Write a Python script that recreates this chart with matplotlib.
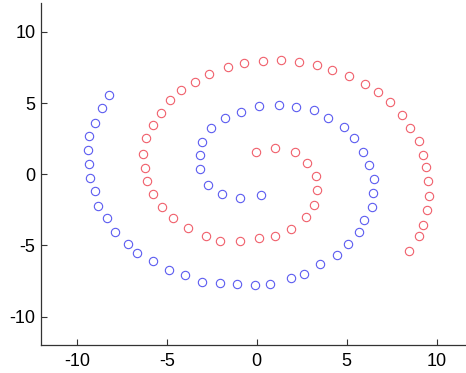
import matplotlib
matplotlib.use("Agg")
import matplotlib.pyplot as plt

plt.rcParams['font.family'] = ['Liberation Sans', 'DejaVu Sans']
plt.rcParams['axes.unicode_minus'] = False

# spiral 1 (red), from the centre outwards
red_x = [-0.05, 0.99, 2.14, 2.81, 3.31, 3.37, 3.19, 2.72, 1.89, 1.00,
         0.12, -0.95, -2.05, -2.85, -3.80, -4.68, -5.29, -5.79, -6.11, -6.24,
         -6.33, -6.14, -5.77, -5.34, -4.81, -4.22, -3.44, -2.63, -1.62, -0.72,
         0.34, 1.37, 2.35, 3.37, 4.18, 5.12, 6.04, 6.72, 7.39, 8.05,
         8.52, 9.04, 9.22, 9.42, 9.52, 9.57, 9.49, 9.25, 9.00, 8.46]
red_y = [1.57, 1.83, 1.58, 0.81, -0.15, -1.09, -2.16, -3.00, -3.86, -4.33,
         -4.51, -4.68, -4.67, -4.33, -3.79, -3.11, -2.30, -1.40, -0.49, 0.41,
         1.40, 2.54, 3.43, 4.33, 5.20, 5.88, 6.47, 7.06, 7.55, 7.84,
         7.98, 8.05, 7.90, 7.69, 7.32, 6.88, 6.34, 5.74, 5.04, 4.14,
         3.24, 2.33, 1.36, 0.54, -0.46, -1.53, -2.51, -3.56, -4.35, -5.39]

# spiral 2 (blue), from the outer end inwards
blue_x = [-8.24, -8.61, -8.98, -9.33, -9.41, -9.33, -9.26, -9.00, -8.85, -8.35,
          -7.88, -7.18, -6.65, -5.79, -4.90, -4.00, -3.05, -2.07, -1.08, -0.08,
          0.76, 1.89, 2.65, 3.50, 4.44, 5.09, 5.66, 5.95, 6.41, 6.48,
          6.50, 6.26, 5.91, 5.39, 4.86, 3.94, 3.18, 2.16, 1.23, 0.11,
          -0.90, -1.75, -2.53, -3.04, -3.13, -3.13, -2.71, -1.96, -0.92, 0.25]
blue_y = [5.55, 4.66, 3.60, 2.65, 1.71, 0.75, -0.28, -1.19, -2.20, -3.07,
          -4.05, -4.87, -5.55, -6.13, -6.76, -7.09, -7.54, -7.61, -7.74, -7.75,
          -7.68, -7.32, -7.00, -6.30, -5.67, -4.92, -4.09, -3.23, -2.27, -1.29,
          -0.37, 0.68, 1.57, 2.55, 3.30, 3.95, 4.49, 4.75, 4.87, 4.81,
          4.39, 3.92, 3.25, 2.28, 1.38, 0.37, -0.74, -1.37, -1.64, -1.43]

ticks = [-10, -5, 0, 5, 10]

fig = plt.figure(figsize=(4.66, 3.73), dpi=100)
ax = fig.add_axes([0.088, 0.075, 0.926, 0.916])

ax.plot(red_x, red_y, 'o', ms=6, mfc='none', mec='#f0606c', mew=0.8)
ax.plot(blue_x, blue_y, 'o', ms=6, mfc='none', mec='#5c5cf0', mew=0.8)

ax.set_xlim(-12, 12)
ax.set_ylim(-12, 12)
ax.set_xticks(ticks)
ax.set_yticks(ticks)
ax.spines['top'].set_visible(False)
ax.spines['right'].set_visible(False)
for s in ('left', 'bottom'):
    ax.spines[s].set_color('#333333')
    ax.spines[s].set_linewidth(0.9)
ax.tick_params(direction='in', length=4, width=0.8, color='#333333',
               labelsize=13)
ax.tick_params(axis='x', pad=6)
ax.tick_params(axis='y', pad=4)

fig.savefig('out.png', dpi=100)
